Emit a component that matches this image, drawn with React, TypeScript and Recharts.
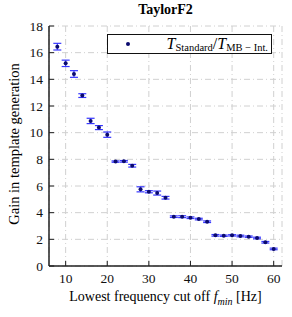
import React from 'react';
import { ComposedChart, Scatter, ErrorBar, XAxis, YAxis, CartesianGrid } from 'recharts';

const fMin = [8, 10, 12, 14, 16, 18, 20, 22, 24, 26, 28, 30, 32, 34, 36, 38, 40, 42, 44, 46, 48, 50, 52, 54, 56, 58, 60];
const gain = [16.45, 15.2, 14.4, 12.78, 10.88, 10.38, 9.85, 7.83, 7.85, 7.52, 5.75, 5.57, 5.47, 5.12, 3.7, 3.7, 3.62, 3.52, 3.32, 2.3, 2.27, 2.3, 2.25, 2.2, 2.1, 1.78, 1.28];
const gainErr = [0.25, 0.24, 0.25, 0.14, 0.2, 0.15, 0.2, 0.05, 0.06, 0.1, 0.19, 0.08, 0.15, 0.1, 0.06, 0.07, 0.06, 0.06, 0.06, 0.06, 0.05, 0.05, 0.06, 0.05, 0.06, 0.06, 0.06];
const xTicks = [10, 20, 30, 40, 50, 60];
const yTicks = [0, 2, 4, 6, 8, 10, 12, 14, 16, 18];

const data = fMin.map((f, i) => ({ f, gain: gain[i], err: gainErr[i] }));

const serif = '"Liberation Serif", "DejaVu Serif", serif';
const tickStyle = { fontFamily: serif, fontSize: 13.5, fill: '#111' };

const Dot = (props: any) => <circle cx={props.cx} cy={props.cy} r={2} fill="#0a0a6e" />;

const App: React.FC = () => {
  return (
    <div style={{ position: 'absolute', left: 0, top: 0, width: 292, height: 317, background: 'white', fontFamily: serif }}>
      <ComposedChart width={292} height={317} data={data} margin={{ top: 26, right: 10, bottom: 21, left: 0 }}>
        <CartesianGrid stroke="#d0d0d0" strokeDasharray="6 3 1 3" />
        <XAxis
          dataKey="f"
          type="number"
          domain={[6, 62]}
          ticks={xTicks}
          height={30}
          tick={tickStyle}
          tickSize={-5}
          tickMargin={12}
          stroke="#222"
          axisLine={{ stroke: '#222', strokeWidth: 1.5 }}
        />
        <XAxis
          xAxisId="top"
          orientation="top"
          dataKey="f"
          type="number"
          domain={[6, 62]}
          ticks={xTicks}
          height={0}
          tick={false}
          tickSize={-5}
          stroke="#222"
          axisLine={{ stroke: '#222', strokeWidth: 1.5 }}
        />
        <YAxis
          type="number"
          domain={[0, 18]}
          ticks={yTicks}
          width={49}
          tick={tickStyle}
          tickSize={-5}
          tickMargin={11}
          stroke="#222"
          axisLine={{ stroke: '#222', strokeWidth: 1.5 }}
        />
        <YAxis
          yAxisId="right"
          orientation="right"
          type="number"
          domain={[0, 18]}
          ticks={yTicks}
          width={0}
          tick={false}
          tickSize={-5}
          stroke="#222"
          axisLine={{ stroke: '#222', strokeWidth: 1.5 }}
        />
        <Scatter dataKey="gain" shape={Dot} isAnimationActive={false}>
          <ErrorBar dataKey="err" direction="y" width={4} stroke="#3636ff" strokeWidth={1.2} isAnimationActive={false} />
        </Scatter>
      </ComposedChart>

      <div style={{ position: 'absolute', left: 49, width: 233, top: 2, textAlign: 'center', fontWeight: 'bold', fontSize: 14 }}>
        TaylorF2
      </div>

      <div
        style={{
          position: 'absolute',
          left: 107,
          top: 34,
          width: 165,
          height: 20,
          border: '1.5px solid #111',
          background: 'white',
          boxSizing: 'border-box',
        }}
      >
        <span style={{ position: 'absolute', left: 18, top: 7, width: 4, height: 4, borderRadius: 2, background: '#0a0a6e' }} />
        <span style={{ position: 'absolute', right: 3, top: -1, fontSize: 16, whiteSpace: 'nowrap', lineHeight: '20px' }}>
          <i>T</i>
          <sub style={{ fontSize: 10.5, verticalAlign: '-2px' }}>Standard</sub>/<i>T</i>
          <sub style={{ fontSize: 10.5, verticalAlign: '-2px' }}>MB − Int.</sub>
        </span>
      </div>

      <div
        style={{
          position: 'absolute',
          left: 14,
          top: 144,
          transform: 'translate(-50%, -50%) rotate(-90deg)',
          fontSize: 14.5,
          whiteSpace: 'nowrap',
        }}
      >
        Gain in template generation
      </div>

      <div style={{ position: 'absolute', left: 49, width: 233, top: 289, textAlign: 'center', fontSize: 14, whiteSpace: 'nowrap' }}>
        Lowest frequency cut off <i>f</i>
        <sub style={{ fontSize: 10, fontStyle: 'italic' }}>min</sub> [Hz]
      </div>
    </div>
  );
};

export default App;
